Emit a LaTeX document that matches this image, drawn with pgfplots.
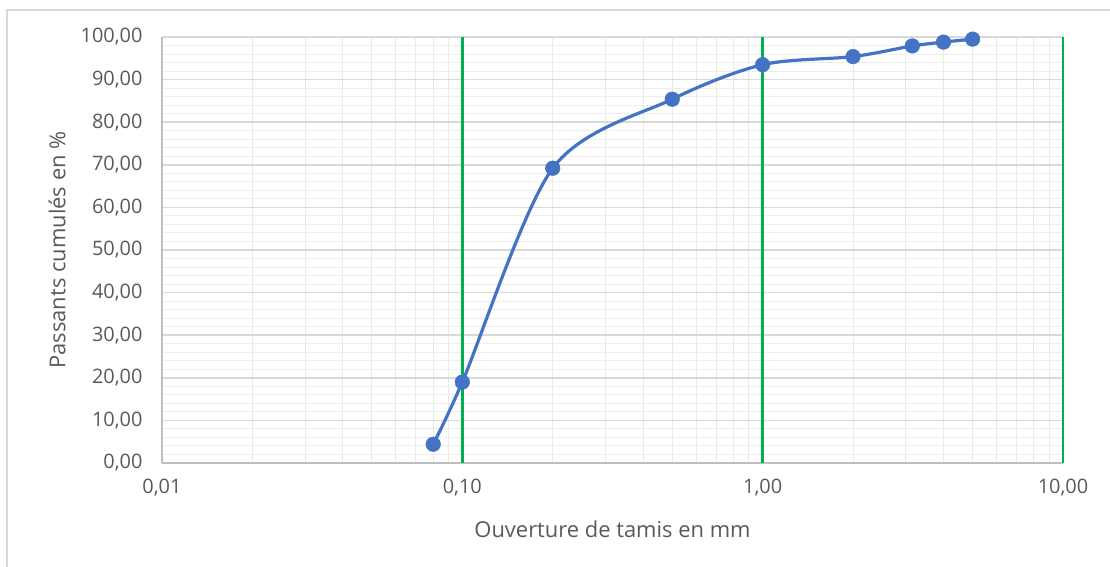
\documentclass[border=0pt]{standalone}
\usepackage{fontspec}
\setmainfont{Open Sans}
\usepackage{pgfplots}
\pgfplotsset{compat=1.18}
\definecolor{txt}{HTML}{595959}
\definecolor{grn}{HTML}{00B050}
\definecolor{mingrn}{HTML}{E2F0D9}
\definecolor{majgray}{HTML}{D9D9D9}
\definecolor{mingray}{HTML}{EDEDED}
\definecolor{axgray}{HTML}{BFBFBF}
\definecolor{serie}{HTML}{4472C4}
\begin{document}
\begin{tikzpicture}[x=1bp,y=1bp]
\useasboundingbox (-162,-104) rectangle (948,463);
\draw[majgray, line width=1.5bp] (948,453) -- (-155,453) -- (-155,-104);
\begin{axis}[
  at={(0,0)}, anchor=south west,
  scale only axis, width=901bp, height=426bp,
  xmode=log, xmin=0.01, xmax=10, ymin=0, ymax=100,
  clip=false,
  axis x line*=bottom, axis y line*=left,
  axis line style={axgray, line width=1.5bp, -},
  xtick={0.01,0.1,1,10},
  xticklabels={{0,01},{0,10},{1,00},{10,00}},
  minor xtick={0.02,0.03,0.04,0.05,0.06,0.07,0.08,0.09,0.2,0.3,0.4,0.5,0.6,0.7,0.8,0.9,2,3,4,5,6,7,8,9},
  ytick={0,10,...,100},
  minor y tick num=4,
  grid=both,
  major x grid style={draw=none},
  minor x grid style={mingrn, line width=1bp},
  major y grid style={majgray, line width=1.5bp},
  minor y grid style={mingray, line width=1bp},
  major tick length=0pt, minor tick length=0pt,
  tick style={draw=none},
  tick label style={font=\fontsize{20}{24}\selectfont, text=txt},
  /pgf/number format/assume math mode=true,
  yticklabel={\pgfmathprintnumber[fixed,fixed zerofill,precision=2,use comma]{\tick}},
  yticklabel style={xshift=-16bp},
  xticklabel style={yshift=-13bp},
  xlabel={Ouverture de tamis en mm},
  ylabel={Passants cumulés en \%},
  label style={font=\fontsize{22}{26}\selectfont, text=txt},
  xlabel style={at={(axis description cs:0.5,-0.155)}, anchor=center},
  ylabel style={at={(axis description cs:-0.1165,0.5)}, anchor=center},
]
\draw[grn, line width=2.5bp] (axis cs:0.1,0) -- (axis cs:0.1,100);
\draw[grn, line width=2.5bp] (axis cs:1,0) -- (axis cs:1,100);
\draw[grn, line width=2.5bp] (axis cs:10,0) -- (axis cs:10,100);
\addplot[serie, line width=3.2bp, smooth, mark=*, mark size=7.3bp,
  mark options={fill=serie, draw=serie, line width=0.5bp}]
  coordinates {(0.08,4.4) (0.1,19.0) (0.2,69.2) (0.5,85.4) (1,93.5) (2,95.4) (3.15,97.9) (4,98.8) (5,99.5)};
\end{axis}
\end{tikzpicture}
\end{document}
